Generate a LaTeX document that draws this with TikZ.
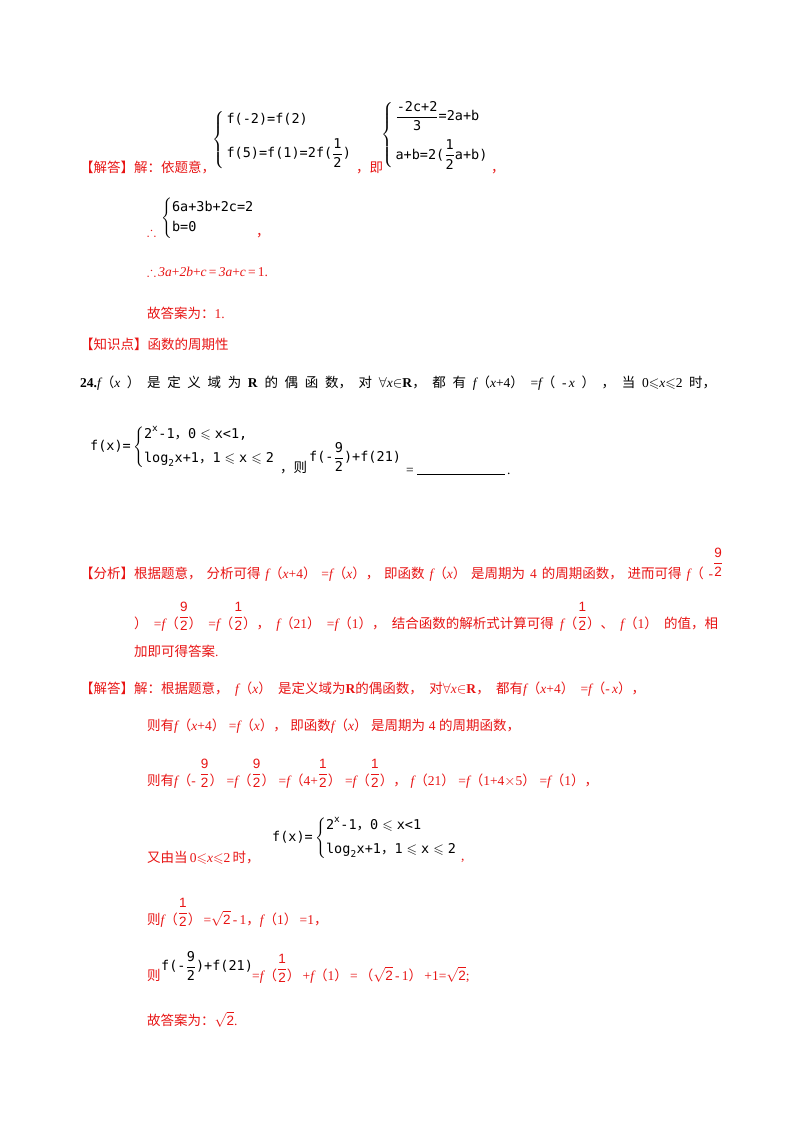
\documentclass[tikz,border=0pt]{standalone}
\usepackage{amsmath,amssymb}
\usepackage{fontspec}
\setmainfont{Liberation Serif}
\newfontfamily\zh{Noto Sans CJK SC}
\newfontfamily\fm{DejaVu Sans Mono}
\newfontfamily\fs{Liberation Sans}
\definecolor{ans}{RGB}{232,20,20}
\newcommand\Z[1]{{\zh #1}}
\newcommand\F[1]{{\itshape f}}
\newcommand\g{\hfil}
\newcommand\tx[1]{\text{\fm #1}}
\newcommand\cm{\text{\zh ，}}
\newcommand\rfr[2]{\raisebox{7pt}{$\dfrac{\text{\fs #1}}{\text{\fs #2}}$}}
\tikzset{t/.style={anchor=base west,inner sep=0pt,font=\fontsize{13.5}{16}\selectfont},
 r/.style={t,text=ans}, m/.style={anchor=west,inner sep=0pt,font=\fontsize{13.5}{16}\selectfont}}
\begin{document}
\begin{tikzpicture}[x=1pt,y=-1pt]
\useasboundingbox (0,0) rectangle (800,1132);
\fill[white] (0,0) rectangle (800,1132);
% first solution
\node[r] (a1) at (80,172) {\Z{【解答】解：依题意，}};
\node[m] (b1) at (212,140) {$\left\{\,\begin{array}{@{}l@{}}\tx{f(-2)=f(2)}\\[10pt]\tx{f(5)=f(1)=2f(}\dfrac{\tx{1}}{\tx{2}}\tx{)}\end{array}\right.$};
\node[r] (a2) at (356,172) {\Z{，即}};
\node[m] (b2) at (381,135) {$\left\{\,\begin{array}{@{}l@{}}\dfrac{\tx{-2c+2}}{\tx{3}}\tx{=2a+b}\\[14pt]\tx{a+b=2(}\dfrac{\tx{1}}{\tx{2}}\tx{a+b)}\end{array}\right.$};
\node[r] (a3) at (491,172) {\Z{，}};
\node[r] (a4) at (147,236) {$\therefore$};
\node[m] (b3) at (161,218) {$\left\{\begin{array}{@{}l@{}}\tx{6a+3b+2c=2}\\[4pt]\tx{b=0}\end{array}\right.$};
\node[r] (a5) at (256,236) {\Z{，}};
\node[r] (a6) at (147,276) {$\therefore$\,\textit{3a}+\textit{2b}+\textit{c}\,=\,\textit{3a}+\textit{c}\,=\,1.};
\node[r] (a7) at (147,318) {\Z{故答案为：}1.};
\node[r] (a8) at (80,349) {\Z{【知识点】函数的周期性}};
% question
\node[t] (q1) at (80,387) {\makebox[636pt][s]{\textbf{24.}\F{}\Z{（}\textit{x}\g\Z{）}\g\Z{是}\g\Z{定}\g\Z{义}\g\Z{域}\g\Z{为}\g\textbf{R}\g\Z{的}\g\Z{偶}\g\Z{函}\g\Z{数，}\g\Z{对}\g$\forall$\textit{x}$\in$\textbf{R}\Z{，}\g\Z{都}\g\Z{有}\g\F{}\Z{（}\textit{x}+4\Z{）}\g=\F{}\Z{（}\g-\,\textit{x}\g\Z{）}\g\Z{，}\g\Z{当}\g0$\leqslant$\textit{x}$\leqslant$2\g\Z{时，}}};
\node[m] (q2) at (90,447) {$\tx{f(x)=}\left\{\begin{array}{@{}l@{}}\tx{2}^{\tx{x}}\tx{-1}\cm\tx{0}\leqslant\tx{x<1,}\\[8pt]\tx{log}_{\tx{2}}\tx{x+1}\cm\tx{1}\leqslant\tx{x}\leqslant\tx{2}\end{array}\right.$};
\node[t] (q3) at (280,472) {\Z{，则}};
\node[m] (q4) at (309,457) {$\tx{f(-}\dfrac{\tx{9}}{\tx{2}}\tx{)+f(21)}$};
\node[t] (q5) at (406,474) {=};
\coordinate (u1) at (417,474); \coordinate (u2) at (505,474);
\draw[line width=0.6pt] (u1) -- (u2);
\node[t] (q6) at (507,474) {.};
% analysis
\node[r] (c1) at (80,578) {\makebox[633pt][s]{\Z{【分析】根据题意，}\g\Z{分析可得}\g\F{}\Z{（}\textit{x}+4\Z{）}\g=\F{}\Z{（}\textit{x}\Z{），}\g\Z{即函数}\g\F{}\Z{（}\textit{x}\Z{）}\g\Z{是周期为}\g4\g\Z{的周期函数，}\g\Z{进而可得}\g\F{}\Z{（}\g-}};
\node[r] (c1b) at (713,574) {\rfr{9}{2}};
\node[r] (c2) at (134,628) {\makebox[584pt][s]{\Z{）}\g=\F{}\Z{（}\rfr{9}{2}\Z{）}\g=\F{}\Z{（}\rfr{1}{2}\Z{），}\g\F{}\Z{（}21\Z{）}\g=\F{}\Z{（}1\Z{），}\g\Z{结合函数的解析式计算可得}\g\F{}\Z{（}\rfr{1}{2}\Z{）、}\g\F{}\Z{（}1\Z{）}\g\Z{的值，相}}};
\node[r] (c3) at (134,656) {\Z{加即可得答案}.};
% solution 2
\node[r] (d1) at (80,693) {\makebox[565pt][s]{\Z{【解答】解：根据题意，}\g\F{}\Z{（}\textit{x}\Z{）}\g\Z{是定义域为}\textbf{R}\Z{的偶函数，}\g\Z{对}$\forall$\textit{x}$\in$\textbf{R}\Z{，}\g\Z{都有}\F{}\Z{（}\textit{x}+4\Z{）}\g=\F{}\Z{（}-\,\textit{x}\Z{），}}};
\node[r] (d2) at (147,730) {\makebox[373pt][s]{\Z{则有}\F{}\Z{（}\textit{x}+4\Z{）}\g=\F{}\Z{（}\textit{x}\Z{），}\g\Z{即函数}\F{}\Z{（}\textit{x}\Z{）}\g\Z{是周期为}\g4\g\Z{的周期函数，}}};
\node[r] (d3) at (147,785) {\makebox[451pt][s]{\Z{则有}\F{}\Z{（}-\g\rfr{9}{2}\Z{）}\g=\F{}\Z{（}\rfr{9}{2}\Z{）}\g=\F{}\Z{（}4+\rfr{1}{2}\Z{）}\g=\F{}\Z{（}\rfr{1}{2}\Z{），}\g\F{}\Z{（}21\Z{）}\g=\F{}\Z{（}1+4$\times$5\Z{）}\g=\F{}\Z{（}1\Z{），}}};
\node[m] (d4) at (272,838) {$\tx{f(x)=}\left\{\begin{array}{@{}l@{}}\tx{2}^{\tx{x}}\tx{-1}\cm\tx{0}\leqslant\tx{x<1}\\[8pt]\tx{log}_{\tx{2}}\tx{x+1}\cm\tx{1}\leqslant\tx{x}\leqslant\tx{2}\end{array}\right.$};
\node[r] (d5) at (147,862) {\Z{又由当}\,0$\leqslant$\textit{x}$\leqslant$2\,\Z{时，}};
\node[r] (d6) at (461,860) {,};
\node[r] (d7) at (147,924) {\Z{则}\F{}\Z{（}\rfr{1}{2}\Z{）}\,=$\sqrt{\text{\fs 2}}$\,-\,1\Z{，}\F{}\Z{（}1\Z{）}\,=1\Z{，}};
\node[r] (d8) at (147,980) {\Z{则}};
\node[m] (d9) at (161,966) {$\tx{f(-}\dfrac{\tx{9}}{\tx{2}}\tx{)+f(21)}$};
\node[r] (d10) at (252,980) {=\F{}\Z{（}\rfr{1}{2}\Z{）}\,+\F{}\Z{（}1\Z{）}\,=\,\Z{（}$\sqrt{\text{\fs 2}}$\,-\,1\Z{）}\,+1=$\sqrt{\text{\fs 2}}$;};
\node[r] (d11) at (147,1025) {\Z{故答案为：}$\sqrt{\text{\fs 2}}$.};
\end{tikzpicture}
\end{document}
